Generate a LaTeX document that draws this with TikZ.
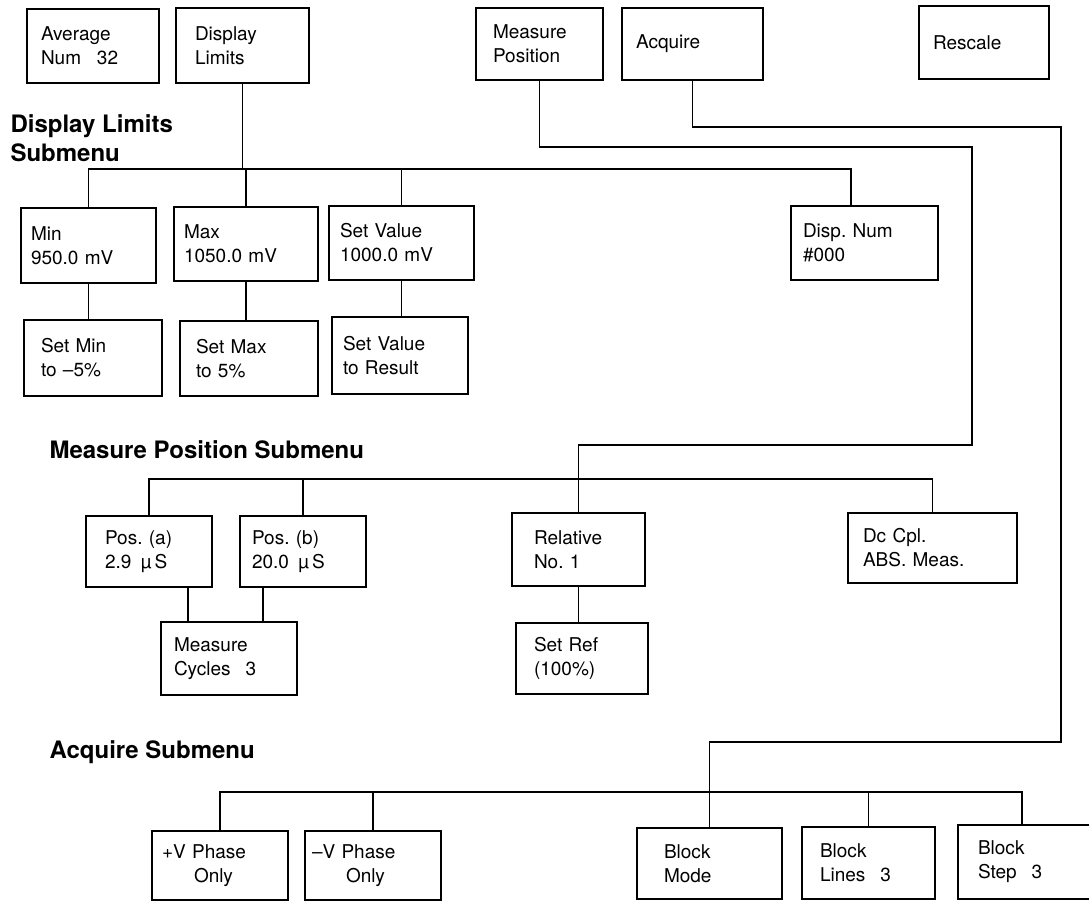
\documentclass[tikz,border=0pt]{standalone}
\usepackage{fontspec}
\setmainfont{TeX Gyre Heros}
\usepackage{tikz}
\frenchspacing

\begin{document}
\begin{tikzpicture}[x=1pt,y=-1pt,line width=1.1pt,
  box/.style={draw,align=left,font=\fontsize{19}{24}\selectfont},
  menutitle/.style={inner sep=0pt,align=left,font=\fontsize{24}{29.5}\selectfont\bfseries}]
\useasboundingbox (0,0) rectangle (1089,901);
\clip (0,0) rectangle (1089,901);
\fill[white] (0,0) rectangle (1089,901);

\node[box,minimum height=74pt,inner xsep=14pt,text width=104pt] at (93,46) (avg) {Average\\Num\enspace\ 32};
\node[box,minimum height=75pt,inner xsep=19pt,text width=95pt] at (242.5,45.5) (displ) {Display\\Limits};
\node[box,minimum height=72pt,inner xsep=17pt,text width=93pt] at (539.5,44) (measpos) {Measure\\Position};
\node[box,minimum height=72pt,inner xsep=14pt,text width=113pt] at (692.5,44) (acq) {Acquire};
\node[box,minimum height=73pt,inner xsep=14pt,text width=102pt] at (984,42.5) (rescale) {Rescale};

\node[menutitle,anchor=north west] at (10,114) (t1) {Display Limits\\Submenu};
\node[box,minimum height=75pt,inner xsep=10pt,text width=115pt] at (88.5,245.5) (min) {Min\\950.0 mV};
\node[box,minimum height=74pt,inner xsep=10pt,text width=124pt] at (246,244) (max) {Max\\1050.0 mV};
\node[box,minimum height=74pt,inner xsep=11pt,text width=123pt] at (401.5,243) (setval) {Set Value\\1000.0 mV};
\node[box,minimum height=74pt,inner xsep=12pt,text width=123pt] at (864.5,243) (dispnum) {Disp. Num\\\#000};
\node[box,minimum height=76pt,inner xsep=17pt,text width=104pt] at (93,358) (setmin) {Set Min\\to \textendash5\%};
\node[box,minimum height=75pt,inner xsep=16pt,text width=106pt] at (249,358.5) (setmax) {Set Max\\to 5\%};
\node[box,minimum height=77pt,inner xsep=11pt,text width=114pt] at (400,355.5) (setres) {Set Value\\to Result};

\node[menutitle,anchor=base west] at (49,458) (t2) {Measure Position Submenu};
\node[box,minimum height=71pt,inner xsep=19pt,text width=88pt] at (149,551.5) (posa) {Pos. (a)\\2.9\enspace µ\,S};
\node[box,minimum height=71pt,inner xsep=12pt,text width=102pt] at (303,551.5) (posb) {Pos. (b)\\20.0\enspace µ\,S};
\node[box,minimum height=73pt,inner xsep=22pt,text width=89pt] at (578.5,549.5) (relative) {Relative\\No. 1};
\node[box,minimum height=70pt,inner xsep=15pt,text width=139pt] at (932.5,548) (dccpl) {Dc Cpl.\\ABS. Meas.};
\node[box,minimum height=73pt,inner xsep=13pt,text width=110pt] at (229,658.5) (cycles) {Measure\\Cycles\hspace{15pt}3};
\node[box,minimum height=71pt,inner xsep=18pt,text width=96pt] at (582,658.5) (setref) {Set Ref\\(100\%)};

\node[menutitle,anchor=base west] at (49,758) (t3) {Acquire Submenu};
\node[box,minimum height=69pt,inner xsep=10pt,text width=116pt] at (220,865.5) (pphase) {+V Phase\\\hspace*{32pt}Only};
\node[box,minimum height=69pt,inner xsep=7pt,text width=122pt] at (373,865.5) (mphase) {\textendash V Phase\\\hspace*{34pt}Only};
\node[box,minimum height=71pt,inner xsep=27pt,text width=91pt] at (709.5,863.5) (blkmode) {Block\\Mode};
\node[box,minimum height=72pt,inner xsep=18pt,text width=97pt] at (868.5,863) (blklines) {Block\\Lines\hspace{15pt}3};
\node[box,minimum height=74pt,inner xsep=20pt,text width=102pt] at (1029,862) (blkstep) {Block\\Step\hspace{15pt}3};

\coordinate (bus1) at (0,169);
\coordinate (bus2) at (0,479);
\coordinate (bus3) at (0,792);
\coordinate (dn) at (851,169);

\draw (displ.south) -- (displ.south |- bus1);
\draw (min.north) |- (dn) -- (dn |- dispnum.north);
\foreach \n in {max,setval}{
\draw (\n.north) -- (\n.north |- bus1);
}
\foreach \a/\b in {min/setmin,max/setmax,setval/setres}{
\draw (\a.south) -- (\a.south |- \b.north);
}

\draw (measpos.south) |- (972,147) -- (972,445) -| (relative.north);
\draw (posa.north) |- (dccpl.north |- bus2) -- (dccpl.north);
\draw (posb.north) -- (posb.north |- bus2);
\draw ([xshift=39pt]posa.south) -- ([xshift=39pt]posa.south |- cycles.north);
\draw ([xshift=-40pt]posb.south) -- ([xshift=-40pt]posb.south |- cycles.north);
\draw (relative.south) -- (relative.south |- setref.north);

\draw (acq.south) |- (1061,127) -- (1061,742) -| (blkmode.north);
\draw (pphase.north) |- ([xshift=-7pt]blkstep.north |- bus3) -- ([xshift=-7pt]blkstep.north);
\foreach \n in {mphase,blklines}{
\draw (\n.north) -- (\n.north |- bus3);
}
\end{tikzpicture}
\end{document}
